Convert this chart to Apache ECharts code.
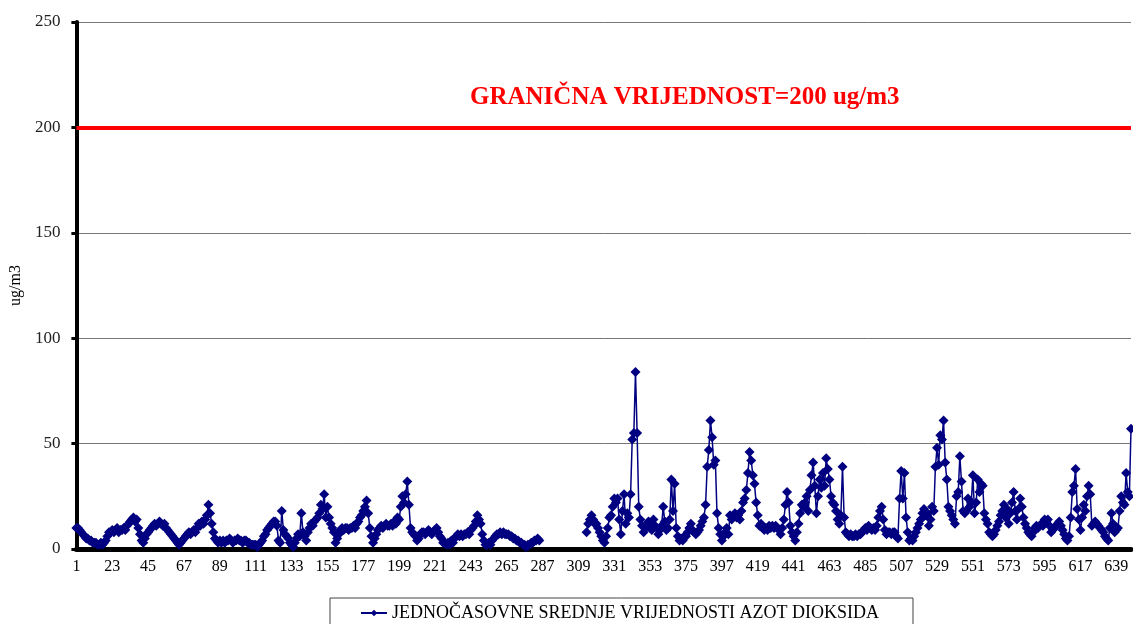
<!DOCTYPE html>
<html>
<head>
<meta charset="utf-8">
<script src="https://cdn.jsdelivr.net/npm/echarts@6/dist/echarts.min.js"></script>
<style>
html, body { margin: 0; padding: 0; background: #fff; }
#chart { width: 1133px; height: 624px; }
</style>
</head>
<body>
<div id="chart"></div>
<script>
// jednočasovne srednje vrijednosti NO2, sat 1..648, bez mjerenja 286..313
const no2Early = [
  10, 10, 9, 8, 7, 6, 5, 5, 4, 4, 3, 3, 3, 2, 2, 3, 2, 3, 4, 6, 8, 8,
  9, 8, 9, 10, 8, 9, 9, 10, 9, 11, 12, 13, 14, 15, 13, 14, 10, 7, 4, 3, 5, 7,
  8, 9, 10, 11, 12, 11, 12, 13, 12, 11, 12, 10, 9, 8, 7, 6, 5, 4, 3, 2, 3, 4,
  5, 6, 7, 8, 7, 8, 9, 8, 10, 12, 11, 13, 12, 14, 16, 21, 17, 12, 8, 5, 4, 3,
  4, 3, 4, 3, 4, 4, 5, 4, 3, 4, 4, 5, 4, 4, 3, 4, 4, 3, 3, 2, 2, 2,
  2, 1, 2, 3, 4, 6, 7, 9, 10, 11, 12, 13, 13, 11, 4, 3, 18, 9, 7, 6, 5, 3,
  2, 1, 3, 5, 7, 6, 17, 8, 6, 4, 8, 10, 12, 11, 13, 14, 15, 17, 21, 19, 26, 15,
  20, 15, 12, 10, 8, 3, 5, 7, 9, 10, 9, 10, 10, 9, 10, 10, 11, 10, 12, 13, 15, 16,
  18, 20, 23, 17, 10, 6, 3, 5, 7, 9, 10, 11, 10, 11, 12, 11, 11, 12, 11, 13, 12, 15,
  14, 20, 25, 22, 26, 32, 21, 10, 8, 7, 6, 4, 5, 7, 8, 8, 7, 8, 9, 8, 7, 8,
  9, 10, 8, 6, 5, 3, 3, 2, 3, 2, 4, 3, 5, 6, 7, 6, 7, 6, 7, 7, 8, 7,
  9, 10, 11, 13, 16, 14, 12, 7, 4, 2, 2, 3, 2, 4, 5, 6, 7, 7, 8, 7, 8, 7,
  7, 7, 6, 6, 5, 5, 4, 4, 3, 3, 2, 2, 1, 2, 2, 3, 3, 4, 4, 5, 4
];
const missingHours = 28;
const no2Late = [
  8, 12, 14, 16, 14, 12, 12, 10, 8, 6, 4, 3, 6, 10, 15, 16, 20,
  24, 22, 24, 14, 7, 18, 26, 12, 17, 15, 26, 52, 55, 84, 55, 20, 14, 11, 8, 10, 12, 13,
  12, 9, 14, 11, 10, 7, 9, 11, 20, 13, 9, 10, 14, 33, 18, 31, 10, 6, 4, 5, 4, 6,
  6, 8, 10, 12, 9, 8, 7, 8, 9, 11, 13, 15, 21, 39, 47, 61, 53, 40, 42, 17, 10, 7,
  4, 6, 8, 10, 7, 16, 14, 16, 17, 15, 16, 14, 18, 22, 24, 28, 36, 46, 42, 35, 31, 22,
  16, 11, 12, 10, 9, 10, 9, 11, 10, 11, 10, 11, 10, 9, 7, 10, 14, 21, 27, 22, 11, 8,
  6, 4, 8, 12, 17, 21, 20, 22, 25, 18, 28, 35, 41, 30, 17, 25, 33, 29, 36, 30, 43, 38,
  33, 25, 22, 21, 18, 14, 12, 16, 39, 15, 8, 7, 6, 7, 6, 6, 7, 6, 7, 7, 8, 9,
  10, 9, 11, 10, 9, 10, 9, 11, 15, 18, 20, 14, 9, 7, 8, 8, 7, 8, 8, 6, 5, 24,
  37, 24, 36, 15, 8, 4, 5, 4, 6, 8, 10, 12, 14, 17, 19, 16, 17, 11, 14, 20, 18, 39,
  48, 40, 54, 52, 61, 41, 33, 20, 18, 16, 14, 12, 25, 27, 44, 32, 18, 17, 18, 24, 20, 22,
  35, 17, 22, 33, 27, 31, 30, 17, 14, 12, 8, 7, 6, 7, 9, 11, 13, 16, 18, 21, 15, 19,
  12, 17, 22, 27, 18, 14, 19, 24, 20, 15, 12, 10, 8, 7, 6, 8, 10, 11, 10, 11, 12, 11,
  14, 13, 14, 11, 8, 9, 10, 11, 12, 13, 11, 9, 7, 5, 4, 6, 15, 27, 30, 38, 19, 14,
  9, 15, 21, 18, 25, 30, 26, 11, 12, 13, 12, 11, 10, 9, 8, 6, 5, 4, 10, 17, 12, 8,
  9, 10, 18, 25, 22, 21, 36, 27, 25, 57
];
const limitValue = 200;
const yTicks = [0, 50, 100, 150, 200, 250];

const values = no2Early.concat(new Array(missingHours).fill(null), no2Late);
const hours = values.map((v, i) => String(i + 1));

const serif = 'Liberation Serif';
const myChart = echarts.init(document.getElementById('chart'));
const option = {
  animation: false,
  backgroundColor: '#fff',
  title: {
    text: 'GRANIČNA VRIJEDNOST=' + limitValue + ' ug/m3',
    left: 470,
    top: 85,
    padding: 0,
    textStyle: { color: '#ff0000', fontFamily: serif, fontWeight: 'bold', fontSize: 25 }
  },
  legend: {
    left: 330,
    top: 598,
    padding: [6, 34, 20, 30],
    borderColor: '#444',
    borderWidth: 1,
    itemWidth: 26,
    itemHeight: 8,
    textStyle: { fontFamily: serif, fontSize: 18, color: '#000' }
  },
  grid: { left: 75, right: 2, top: 22, bottom: 75 },
  xAxis: {
    type: 'category',
    boundaryGap: false,
    data: hours,
    axisLine: { lineStyle: { color: '#000', width: 5 } },
    axisTick: { show: false },
    axisLabel: { interval: 21, color: '#000', fontFamily: serif, fontSize: 16, margin: 10 },
    splitLine: { show: false }
  },
  yAxis: {
    type: 'value',
    min: yTicks[0],
    max: yTicks[yTicks.length - 1],
    interval: 50,
    name: 'ug/m3',
    nameLocation: 'middle',
    nameRotate: 90,
    nameGap: 47,
    nameTextStyle: { fontFamily: serif, fontSize: 16, color: '#000' },
    axisLine: { show: true, lineStyle: { color: '#000', width: 4 } },
    axisTick: { show: true, length: 5, lineStyle: { color: '#000', width: 3 } },
    axisLabel: { color: '#222', fontFamily: serif, fontSize: 17, margin: 16 },
    splitLine: { lineStyle: { color: '#777', width: 1 } }
  },
  series: [
    {
      name: 'JEDNOČASOVNE SREDNJE VRIJEDNOSTI AZOT DIOKSIDA',
      type: 'line',
      data: values,
      connectNulls: false,
      symbol: 'diamond',
      symbolSize: 10,
      showAllSymbol: true,
      itemStyle: { color: '#000080' },
      lineStyle: { color: '#000080', width: 1.5 },
      markLine: {
        silent: true,
        symbol: 'none',
        label: { show: false },
        lineStyle: { color: '#ff0000', width: 4, type: 'solid' },
        data: [{ yAxis: limitValue }]
      }
    }
  ]
};
option && myChart.setOption(option);
</script>
</body>
</html>
